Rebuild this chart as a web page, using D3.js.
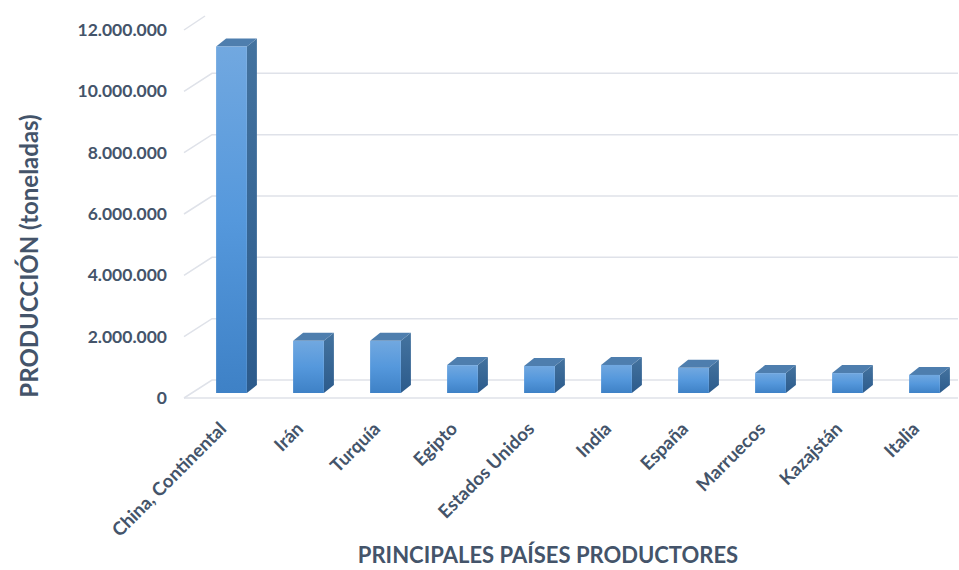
<!DOCTYPE html>
<html>
<head>
<meta charset="utf-8">
<script src="https://cdn.jsdelivr.net/npm/d3@7"></script>
<style>
  html, body { margin: 0; padding: 0; background: #ffffff; }
  svg { display: block; }
  text { font-family: Lato, "Open Sans", sans-serif; font-weight: 700; fill: #44546a; }
</style>
</head>
<body>
<svg id="chart" width="959" height="570"></svg>
<script>
// Principales países productores (toneladas)
const categories = ["China, Continental", "Irán", "Turquía", "Egipto", "Estados Unidos",
                    "India", "España", "Marruecos", "Kazajstán", "Italia"];
const production = [11300000, 1700000, 1700000, 910000, 880000,
                    915000, 820000, 650000, 650000, 590000];
const yTicks = [0, 2000000, 4000000, 6000000, 8000000, 10000000, 12000000];
const yTitle = "PRODUCCIÓN (toneladas)";
const xTitle = "PRINCIPALES PAÍSES PRODUCTORES";

const svg = d3.select("#chart");

// Spanish number format: 12.000.000
const es = d3.formatLocale({ decimal: ",", thousands: ".", grouping: [3], currency: ["", "€"] });
const fmt = es.format(",.0f");

// Perspective offsets of the 3D box
const wallLeft = 212, floorLeft = 184, rightEdge = 958;
const floorDy = 18;                                    // front edge -> back wall
const barFront = 13;                                   // bar front plane below back wall
const depthDx = 10, depthDy = -8;                      // bar depth

// Scales (y on the back wall)
const y = d3.scaleLinear().domain([0, 12000000]).range([380, 12]);
const x = d3.scaleBand().domain(categories).range([193, 963])
  .paddingInner(0.6).paddingOuter(0.3);

// Gradients
const defs = svg.append("defs");
function grad(id, stops) {
  const g = defs.append("linearGradient").attr("id", id)
    .attr("x1", 0).attr("y1", 0).attr("x2", 0).attr("y2", 1);
  stops.forEach(([o, c]) => g.append("stop").attr("offset", o).attr("stop-color", c));
}
grad("gFront", [[0, "#71a8e0"], [0.5, "#5598dc"], [1, "#3e81c6"]]);
grad("gSide", [[0, "#44739f"], [1, "#2c5b8c"]]);

// Gridlines on back wall with side-wall diagonal
const grid = svg.append("g").attr("fill", "none").attr("stroke", "#dfe2e9").attr("stroke-width", 1.5);
yTicks.forEach(t => {
  const yy = y(t);
  if (t === yTicks[yTicks.length - 1]) {
    grid.append("path").attr("d", `M${floorLeft},${yy + floorDy}L${wallLeft - 7},${yy + 4}`);
  } else {
    grid.append("path").attr("d", `M${floorLeft},${yy + floorDy}L${wallLeft},${yy}L${rightEdge},${yy}`);
  }
});
// Floor front edge
grid.append("path").attr("d", `M${floorLeft},${y(0) + floorDy}L${rightEdge},${y(0) + floorDy}`);

// Y axis (front plane)
const yAxis = svg.append("g")
  .attr("transform", `translate(${floorLeft - 17},${floorDy})`)
  .call(d3.axisLeft(y).tickValues(yTicks).tickFormat(fmt).tickSize(0).tickPadding(0));
yAxis.select(".domain").remove();
yAxis.selectAll("text")
  .attr("font-family", "Lato, 'Open Sans', sans-serif")
  .attr("font-weight", 700)
  .attr("font-size", 17.5)
  .attr("fill", "#44546a");

// Bars
const bars = svg.append("g").selectAll("g").data(categories).join("g");
bars.each(function (c, i) {
  const g = d3.select(this);
  const v = production[i];
  const x0 = x(c), bw = x.bandwidth();
  const yb = y(0) + barFront, yt = y(v) + barFront;
  // side face
  g.append("path")
    .attr("d", `M${x0 + bw},${yt}L${x0 + bw + depthDx},${yt + depthDy}L${x0 + bw + depthDx},${yb + depthDy}L${x0 + bw},${yb}Z`)
    .attr("fill", "url(#gSide)");
  // top face
  g.append("path")
    .attr("d", `M${x0},${yt}L${x0 + depthDx},${yt + depthDy}L${x0 + bw + depthDx},${yt + depthDy}L${x0 + bw},${yt}Z`)
    .attr("fill", "#4e7eae");
  // front face
  g.append("rect")
    .attr("x", x0).attr("y", yt).attr("width", bw).attr("height", yb - yt)
    .attr("fill", "url(#gFront)");
});

// Category labels
svg.append("g").selectAll("text").data(categories).join("text")
  .attr("transform", c => `translate(${x(c) + x.bandwidth() / 2 - 4},${y(0) + 50}) rotate(-45)`)
  .attr("text-anchor", "end")
  .attr("font-size", 18.5)
  .text(c => c);

// Axis titles
svg.append("text")
  .attr("transform", `translate(30,256) rotate(-90)`)
  .attr("text-anchor", "middle").attr("dy", "0.35em")
  .attr("font-size", 24)
  .text(yTitle);

svg.append("text")
  .attr("x", 548).attr("y", 555)
  .attr("text-anchor", "middle").attr("dy", "0.35em")
  .attr("font-size", 22)
  .text(xTitle);
</script>
</body>
</html>
